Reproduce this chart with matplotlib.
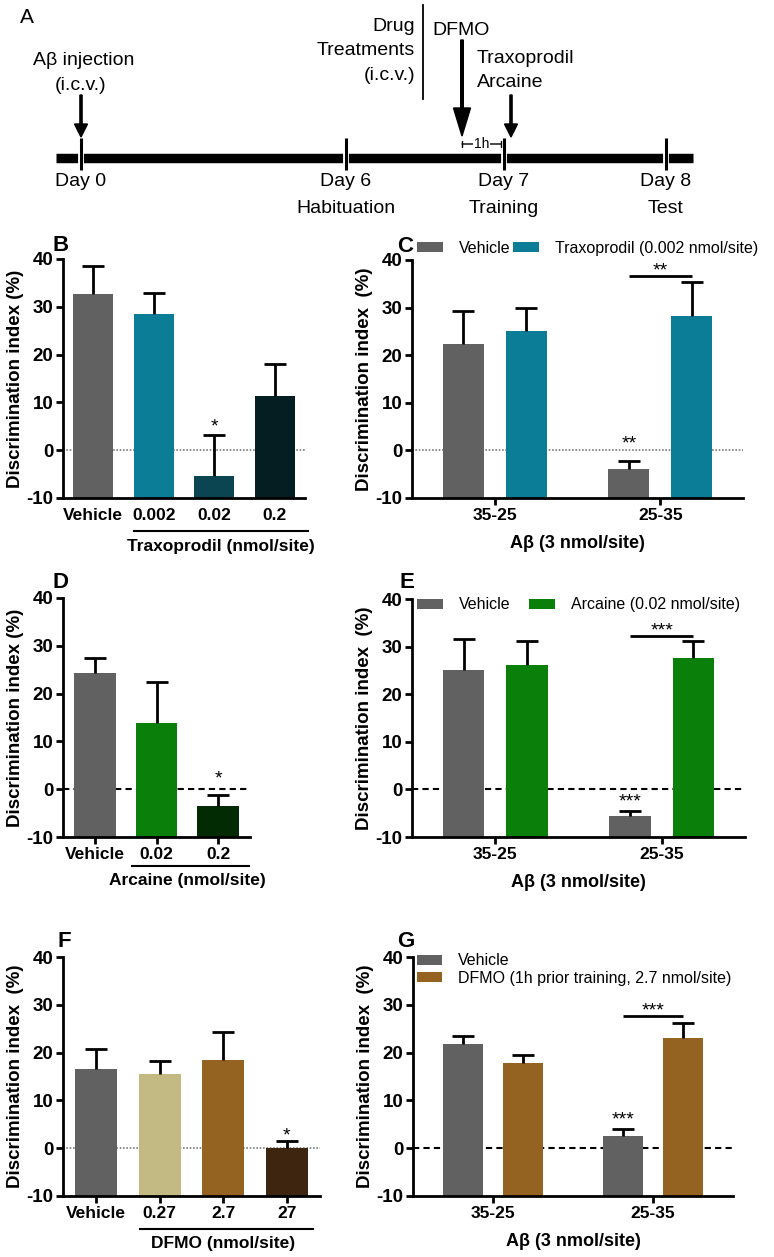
import matplotlib
matplotlib.use('Agg')
import matplotlib.pyplot as plt
import matplotlib.patheffects as pe
import numpy as np

plt.rcParams['font.family'] = ['Liberation Sans', 'DejaVu Sans']
plt.rcParams['font.weight'] = 'bold'
plt.rcParams['axes.labelweight'] = 'bold'
plt.rcParams['axes.unicode_minus'] = False

W, H = 774, 1257

# ---- panel A: experimental timeline (schematic positions along the bar)
day_labels = ['Day 0', 'Day 6', 'Day 7', 'Day 8']
day_phases = ['', 'Habituation', 'Training', 'Test']
day_x = [81, 346, 504, 666]

# ---- panel B: Traxoprodil dose response
b_labels = ['Vehicle', '0.002', '0.02', '0.2']
b_mean = [32.6, 28.5, -5.3, 11.3]
b_sem = [5.9, 4.3, 8.4, 6.8]
b_colors = ['#616161', '#0b7d97', '#0a4551', '#051e21']
b_stars = ['', '', '*', '']
b_star_y = [0, 0, 4.8, 0]

# ---- panel C: Abeta x Traxoprodil
ab_labels = ['35-25', '25-35']
c_veh = [22.4, -3.9]
c_veh_sem = [6.8, 1.6]
c_drug = [25.0, 28.3]
c_drug_sem = [4.9, 7.1]

# ---- panel D: Arcaine dose response
d_labels = ['Vehicle', '0.02', '0.2']
d_mean = [24.3, 13.9, -3.5]
d_sem = [3.1, 8.5, 2.2]
d_colors = ['#616161', '#0a800a', '#022a03']
d_stars = ['', '', '*']
d_star_y = [0, 0, 2.1]

# ---- panel E: Abeta x Arcaine
e_veh = [25.1, -5.6]
e_veh_sem = [6.6, 1.0]
e_drug = [26.2, 27.7]
e_drug_sem = [5.0, 3.5]

# ---- panel F: DFMO dose response
f_labels = ['Vehicle', '0.27', '2.7', '27']
f_mean = [16.5, 15.6, 18.4, 0.1]
f_sem = [4.3, 2.6, 6.0, 1.4]
f_colors = ['#616161', '#c3b983', '#946322', '#3e2510']
f_stars = ['', '', '', '*']
f_star_y = [0, 0, 0, 2.6]

# ---- panel G: Abeta x DFMO
g_veh = [21.7, 2.6]
g_veh_sem = [1.7, 1.5]
g_drug = [17.8, 23.0]
g_drug_sem = [1.8, 3.2]

VEH = '#616161'
YLAB1 = 'Discrimination index (%)'
YLAB2 = 'Discrimination index  (%)'

fig = plt.figure(figsize=(W / 100, H / 100), dpi=100)


def px_axes(l, t, r, b):
    return fig.add_axes([l / W, 1 - b / H, (r - l) / W, (b - t) / H])


def up_errorbar(ax, x, mean, sem):
    # only the upper half of the SEM is drawn, as in the original
    eb = ax.errorbar(x, mean, yerr=[np.zeros(len(x)), sem], fmt='none', ecolor='k',
                     elinewidth=2, capsize=8, capthick=2, zorder=3)
    eb[1][0].set_visible(False)


def style(ax, l, r, ylabel, zero_dash):
    ax.set_ylim(-10, 40)
    ax.set_yticks(range(-10, 41, 10))
    for s in ['top', 'right']:
        ax.spines[s].set_visible(False)
    for s in ['left', 'bottom']:
        ax.spines[s].set_linewidth(2)
    ax.tick_params(width=2, length=5, labelsize=13.5, pad=2)
    ax.tick_params(axis='x', labelsize=12.5)
    ax.set_ylabel(ylabel, fontsize=13.5)
    ax.yaxis.set_label_coords(-39 / (r - l), 0.5)
    if zero_dash:
        ax.axhline(0, color='k', lw=1.5, ls=(0, (3, 2)), zorder=1)
    else:
        ax.axhline(0, color='#7a7a7a', lw=1.2, ls=(0, (1, 1)), zorder=1)


def dose_panel(box, labels, mean, sem, colors, stars, star_y, width, ylabel, dash):
    l, t, r, b = box
    ax = px_axes(l, t, r, b)
    x = np.arange(len(labels))
    ax.bar(x, np.array(mean) + 10, bottom=-10, width=width, color=colors, zorder=2)
    up_errorbar(ax, x, mean, sem)
    for xi, s, sy in zip(x, stars, star_y):
        if s:
            ax.text(xi, sy, s, ha='center', va='center', fontsize=14, fontweight='normal')
    ax.set_xlim(-0.5, len(labels) - 0.5)
    ax.set_xticks(x, labels)
    style(ax, l, r, ylabel, dash)
    return ax


def group_panel(box, veh, veh_sem, drug, drug_sem, color,
                sig_y, sig_stars, veh_star_y, ylabel, dash):
    l, t, r, b = box
    ax = px_axes(l, t, r, b)
    g = np.arange(len(ab_labels))
    off, wd = 0.19, 0.25
    h1 = ax.bar(g - off, np.array(veh) + 10, bottom=-10, width=wd, color=VEH, zorder=2)
    h2 = ax.bar(g + off, np.array(drug) + 10, bottom=-10, width=wd, color=color, zorder=2)
    up_errorbar(ax, g - off, veh, veh_sem)
    up_errorbar(ax, g + off, drug, drug_sem)
    # significance: 25-35 vehicle vs drug, and vs 35-25 vehicle
    ax.plot([g[1] - off, g[1] + off], [sig_y, sig_y], color='k', lw=2, solid_capstyle='butt')
    ax.text(g[1], sig_y + 1.1, sig_stars, ha='center', va='center', fontsize=14, fontweight='normal')
    ax.text(g[1] - off, veh_star_y, sig_stars, ha='center', va='center', fontsize=14,
            fontweight='normal')
    ax.set_xlim(-0.5, 1.5)
    ax.set_xticks(g, ab_labels)
    ax.set_xlabel('Aβ (3 nmol/site)', fontsize=13, labelpad=9)
    style(ax, l, r, ylabel, dash)
    return ax, h1, h2


# ================= panel A =================
axa = fig.add_axes([0, 1 - 215 / H, 1, 215 / H])
axa.set_xlim(0, W)
axa.set_ylim(215, 0)
axa.axis('off')
axa.plot([56, 693], [157.5, 157.5], color='k', lw=6.8, solid_capstyle='butt')
for xd, dl, ph in zip(day_x, day_labels, day_phases):
    axa.plot([xd, xd], [138, 170], color='k', lw=2.2, solid_capstyle='butt',
             path_effects=[pe.Stroke(linewidth=4.2, foreground='white'), pe.Normal()])
    axa.text(xd, 186, dl, ha='center', va='baseline', fontsize=14, fontweight='normal')
    if ph:
        axa.text(xd, 213, ph, ha='center', va='baseline', fontsize=14, fontweight='normal')
axa.text(20, 23, 'A', ha='left', va='baseline', fontsize=15, fontweight='normal')
axa.text(84, 65, 'Aβ injection', ha='center', va='baseline', fontsize=14, fontweight='normal')
axa.text(81, 90, '(i.c.v.)', ha='center', va='baseline', fontsize=14, fontweight='normal')
axa.arrow(day_x[0], 95, 0, 42, width=2.2, head_width=13, head_length=13,
          length_includes_head=True, color='k')
for yy, tx in zip([31, 55, 80], ['Drug', 'Treatments', '(i.c.v.)']):
    axa.text(415, yy, tx, ha='right', va='baseline', fontsize=14, fontweight='normal')
axa.plot([423, 423], [5, 99], color='k', lw=1.3)
axa.text(432, 35, 'DFMO', ha='left', va='baseline', fontsize=14, fontweight='normal')
axa.arrow(462, 40, 0, 96, width=2.6, head_width=17, head_length=28,
          length_includes_head=True, color='k')
axa.text(477, 63, 'Traxoprodil', ha='left', va='baseline', fontsize=14, fontweight='normal')
axa.text(477, 87, 'Arcaine', ha='left', va='baseline', fontsize=14, fontweight='normal')
axa.arrow(511, 95, 0, 42, width=2.2, head_width=13, head_length=13,
          length_includes_head=True, color='k')
axa.annotate('', xy=(462, 144), xytext=(501, 144),
             arrowprops=dict(arrowstyle='|-|,widthA=0.25,widthB=0.25', lw=1, color='k',
                             shrinkA=0, shrinkB=0))
axa.text(481.5, 144, '1h', ha='center', va='center', fontsize=10, fontweight='normal',
         bbox=dict(fc='white', ec='none', pad=0.3))

# ================= panel B =================
axb = dose_panel((63, 259, 305, 498), b_labels, b_mean, b_sem, b_colors, b_stars, b_star_y,
                 0.66, YLAB1, False)
axb.tick_params(axis='x', length=0, pad=7)
tr = axb.get_xaxis_transform()
axb.plot([0.67, 3.55], [-0.138, -0.138], color='k', lw=1.5, transform=tr, clip_on=False)
axb.text(2.11, -0.205, 'Traxoprodil (nmol/site)', ha='center', va='center', fontsize=12.5,
         transform=tr)

# ================= panel C =================
axc, h1, h2 = group_panel((412, 260, 743, 498), c_veh, c_veh_sem, c_drug, c_drug_sem,
                          '#0b7d97', 36.6, '**', 1.4, YLAB2, False)
axc.legend([h1, h2], ['Vehicle', 'Traxoprodil (0.002 nmol/site)'], ncol=2, loc='center left',
           bbox_to_anchor=(0.015, 1.05), frameon=False, prop={'size': 11.5, 'weight': 'normal'},
           handlelength=1.6, handleheight=0.6, handletextpad=1.0, columnspacing=0.2,
           borderpad=0, borderaxespad=0)

# ================= panel D =================
axd = dose_panel((63, 598, 250, 837), d_labels, d_mean, d_sem, d_colors, d_stars, d_star_y,
                 0.68, YLAB1, True)
axd.set_xlim(-0.52, 2.52)
tr = axd.get_xaxis_transform()
axd.plot([0.6, 2.5], [-0.121, -0.121], color='k', lw=1.5, transform=tr, clip_on=False)
axd.text(1.5, -0.18, 'Arcaine (nmol/site)', ha='center', va='center', fontsize=12.5,
         transform=tr)

# ================= panel E =================
axe, h1, h2 = group_panel((412, 599, 745, 837), e_veh, e_veh_sem, e_drug, e_drug_sem,
                          '#0a800a', 32.2, '***', -2.7, YLAB2, True)
axe.legend([h1, h2], ['Vehicle', 'Arcaine (0.02 nmol/site)'], ncol=2, loc='center left',
           bbox_to_anchor=(0.015, 0.975), frameon=False, prop={'size': 11.5, 'weight': 'normal'},
           handlelength=1.6, handleheight=0.6, handletextpad=1.0, columnspacing=1.2,
           borderpad=0, borderaxespad=0)

# ================= panel F =================
axf = dose_panel((63, 957, 320, 1196), f_labels, f_mean, f_sem, f_colors, f_stars, f_star_y,
                 0.66, YLAB2, False)
axf.set_xlim(-0.52, 3.52)
tr = axf.get_xaxis_transform()
axf.plot([0.69, 3.41], [-0.138, -0.138], color='k', lw=1.5, transform=tr, clip_on=False)
axf.text(2.0, -0.197, 'DFMO (nmol/site)', ha='center', va='center', fontsize=12.5,
         transform=tr)

# ================= panel G =================
axg, h1, h2 = group_panel((413, 957, 733, 1196), g_veh, g_veh_sem, g_drug, g_drug_sem,
                          '#946322', 27.6, '***', 5.9, YLAB2, True)
axg.legend([h1, h2], ['Vehicle', 'DFMO (1h prior training, 2.7 nmol/site)'], ncol=1,
           loc='upper left', bbox_to_anchor=(0.012, 1.015), frameon=False,
           prop={'size': 11.5, 'weight': 'normal'}, handlelength=1.6, handleheight=0.6,
           handletextpad=0.95, labelspacing=0.15, borderpad=0, borderaxespad=0)

# panel letters
for (lx, ly, let) in [(52, 251, 'B'), (397, 252, 'C'), (52, 588, 'D'), (400, 588, 'E'),
                      (57, 947, 'F'), (397, 947, 'G')]:
    fig.text(lx / W, 1 - ly / H, let, ha='left', va='baseline', fontsize=16, fontweight='bold')

fig.savefig('out.png', dpi=100)
